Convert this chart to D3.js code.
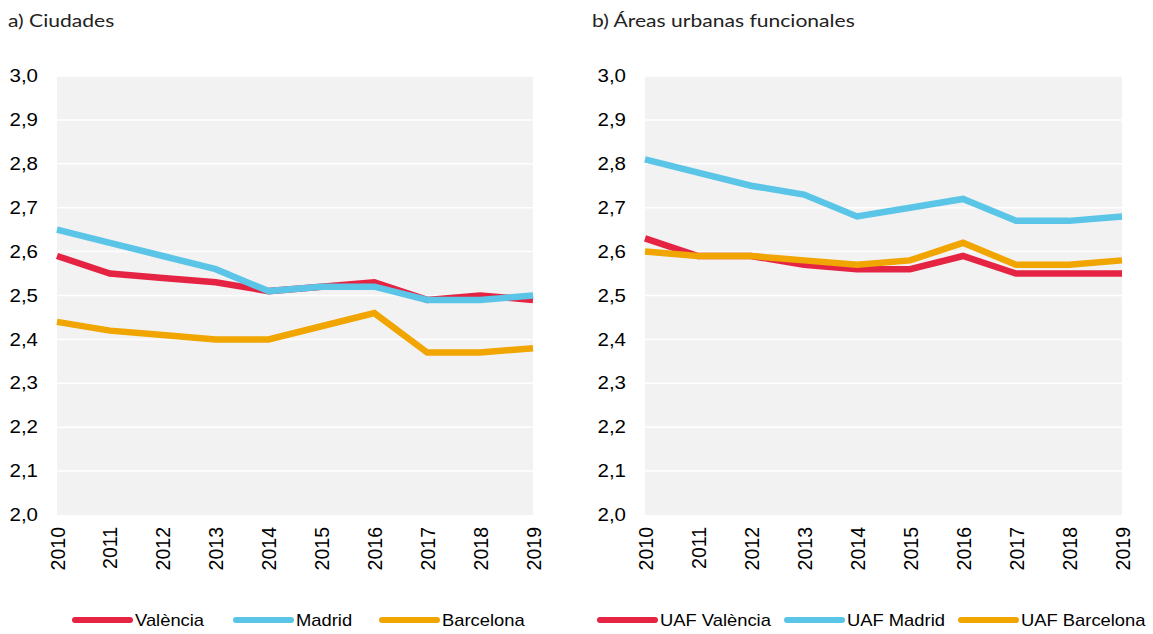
<!DOCTYPE html>
<html>
<head>
<meta charset="utf-8">
<script src="https://cdn.jsdelivr.net/npm/d3@7"></script>
<style>
  body { margin: 0; background: #fff; }
  svg text { font-family: "Liberation Sans", Arial, sans-serif; fill: #000; }
  .title { font-family: Lato, sans-serif; font-size: 18px; fill: #222; }
</style>
</head>
<body>
<svg width="1153" height="634"></svg>
<script>
// data
const years = [2010, 2011, 2012, 2013, 2014, 2015, 2016, 2017, 2018, 2019]
const yTicks = [2.0, 2.1, 2.2, 2.3, 2.4, 2.5, 2.6, 2.7, 2.8, 2.9, 3.0]

const valencia = [2.59, 2.55, 2.54, 2.53, 2.51, 2.52, 2.53, 2.49, 2.50, 2.49]
const madrid = [2.65, 2.62, 2.59, 2.56, 2.51, 2.52, 2.52, 2.49, 2.49, 2.50]
const barcelona = [2.44, 2.42, 2.41, 2.40, 2.40, 2.43, 2.46, 2.37, 2.37, 2.38]

const uafValencia = [2.63, 2.59, 2.59, 2.57, 2.56, 2.56, 2.59, 2.55, 2.55, 2.55]
const uafMadrid = [2.81, 2.78, 2.75, 2.73, 2.68, 2.70, 2.72, 2.67, 2.67, 2.68]
const uafBarcelona = [2.60, 2.59, 2.59, 2.58, 2.57, 2.58, 2.62, 2.57, 2.57, 2.58]

const colors = ['#e52443', '#5bc5e8', '#f0a500']

const svg = d3.select('svg')

// the picture is a bit wider than tall, so stretch text horizontally
const stretch = (sel, k) => {
    sel.each(function() {
        const w = this.getComputedTextLength()
        this.setAttribute('textLength', w * k)
        this.setAttribute('lengthAdjust', 'spacingAndGlyphs')
    })
}

const drawPanel = (opts) => {
    const { left, right, title, titleX, series, names, legend } = opts
    const top = 76, bottom = 515

    const x = d3.scaleLinear().domain([2010, 2019]).range([left, right])
    const y = d3.scaleLinear().domain([2.0, 3.0]).range([bottom, top])

    svg.append('text')
        .attr('class', 'title')
        .attr('x', titleX)
        .attr('y', 27)
        .text(title)
        .call(stretch, 1.17)

    // plot background
    svg.append('rect')
        .attr('x', left)
        .attr('y', top)
        .attr('width', right - left)
        .attr('height', bottom - top)
        .attr('fill', '#f2f2f2')

    // grid
    svg.append('g')
        .selectAll('line')
        .data(yTicks.slice(1))
        .enter()
        .append('line')
        .attr('x1', left)
        .attr('x2', right)
        .attr('y1', d => y(d))
        .attr('y2', d => y(d))
        .attr('stroke', '#fff')
        .attr('stroke-width', 1.5)

    const yAxis = d3.axisLeft(y)
        .tickValues(yTicks)
        .tickSize(0)
        .tickPadding(19)
        .tickFormat(d => d3.format('.1f')(d).replace('.', ','))
    svg.append('g')
        .attr('transform', `translate(${left}, 0)`)
        .call(yAxis)
        .call(g => g.select('.domain').remove())
        .selectAll('text')
        .style('font-size', '17.5px')
        .call(stretch, 1.17)

    const xAxis = d3.axisBottom(x)
        .tickValues(years)
        .tickSize(0)
        .tickFormat(d3.format('d'))
    svg.append('g')
        .attr('transform', `translate(0, ${bottom})`)
        .call(xAxis)
        .call(g => g.select('.domain').remove())
        .selectAll('text')
        .style('font-size', '19.5px')
        .attr('text-anchor', 'end')
        .attr('transform', 'rotate(-90)')
        .attr('x', -12)
        .attr('y', 0)
        .attr('dy', '0.36em')

    const line = d3.line()
        .x((d, i) => x(years[i]))
        .y(d => y(d))

    series.forEach((s, i) => {
        svg.append('path')
            .datum(s)
            .attr('d', line)
            .attr('fill', 'none')
            .attr('stroke', colors[i])
            .attr('stroke-width', 6.5)
            .attr('stroke-linejoin', 'miter')
    })

    // legend
    const lg = svg.append('g')
    names.forEach((name, i) => {
        const lx = legend[i]
        lg.append('line')
            .attr('x1', lx)
            .attr('x2', lx + 55)
            .attr('y1', 620)
            .attr('y2', 620)
            .attr('stroke', colors[i])
            .attr('stroke-width', 6)
            .attr('stroke-linecap', 'round')
        lg.append('text')
            .attr('x', lx + 60)
            .attr('y', 620)
            .attr('dy', '0.35em')
            .style('font-size', '17px')
            .text(name)
            .call(stretch, 1.08)
    })
}

drawPanel({
    left: 57, right: 533, title: 'a) Ciudades', titleX: 8,
    series: [valencia, madrid, barcelona],
    names: ['València', 'Madrid', 'Barcelona'],
    legend: [75, 236, 382]
})

drawPanel({
    left: 645, right: 1122, title: 'b) Áreas urbanas funcionales', titleX: 592,
    series: [uafValencia, uafMadrid, uafBarcelona],
    names: ['UAF València', 'UAF Madrid', 'UAF Barcelona'],
    legend: [600, 787, 961]
})
</script>
</body>
</html>
